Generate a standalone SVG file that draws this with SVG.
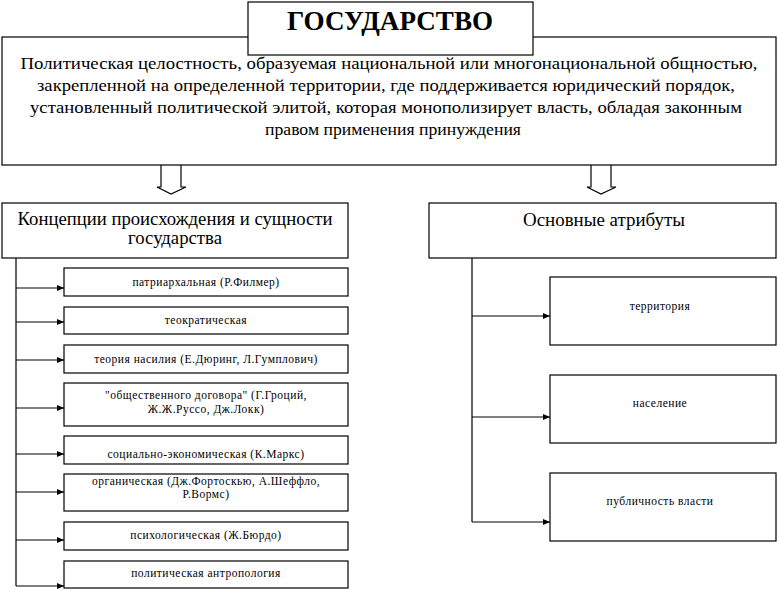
<svg xmlns="http://www.w3.org/2000/svg" width="778" height="590" viewBox="0 0 778 590">
<style>
.box{fill:#fff;stroke:#000;stroke-width:1.2}
.ln{fill:none;stroke:#000;stroke-width:1.2}
text{font-family:"Liberation Serif","DejaVu Serif","Times New Roman",serif;fill:#000;text-anchor:middle}
.big{font-size:17px}
.hd{font-size:18px}
.sm{font-size:11.5px;letter-spacing:0.5px}
.ttl{font-size:28px;font-weight:bold}
</style>
<defs>
<marker id="ah" markerWidth="7" markerHeight="6" refX="7" refY="3" orient="auto" markerUnits="userSpaceOnUse">
<path d="M0,0 L7,3 L0,6 Z" fill="#000"/>
</marker>
</defs>

<g id="definition">
<rect class="box" x="2" y="37" width="774" height="128"/>
<text class="big" x="389" y="69" textLength="737" lengthAdjust="spacingAndGlyphs">Политическая целостность, образуемая национальной или многонациональной общностью,</text>
<text class="big" x="386" y="91" textLength="698" lengthAdjust="spacingAndGlyphs">закрепленной на определенной территории, где поддерживается юридический порядок,</text>
<text class="big" x="386" y="113" textLength="712" lengthAdjust="spacingAndGlyphs">установленный политической элитой, которая монополизирует власть, обладая законным</text>
<text class="big" x="393" y="135" textLength="256" lengthAdjust="spacingAndGlyphs">правом применения принуждения</text>
</g>

<g id="title">
<rect class="box" x="248" y="2" width="285" height="53"/>
<text class="ttl" x="390" y="30" textLength="206" lengthAdjust="spacingAndGlyphs">ГОСУДАРСТВО</text>
</g>

<g id="concepts">
<rect class="box" x="2" y="203" width="346" height="55"/>
<text class="hd" x="175" y="225" textLength="315" lengthAdjust="spacingAndGlyphs">Концепции происхождения и сущности</text>
<text class="hd" x="175" y="244" textLength="94" lengthAdjust="spacingAndGlyphs">государства</text>
</g>

<g id="attributes">
<rect class="box" x="429" y="203" width="347" height="55"/>
<text class="hd" x="604" y="226" textLength="162" lengthAdjust="spacingAndGlyphs">Основные атрибуты</text>
</g>

<g id="c1"><rect class="box" x="64" y="268" width="284" height="28"/><text class="sm" x="206" y="286">патриархальная (Р.Филмер)</text></g>
<g id="c2"><rect class="box" x="64" y="307" width="284" height="27"/><text class="sm" x="206" y="324">теократическая</text></g>
<g id="c3"><rect class="box" x="64" y="345" width="284" height="28"/><text class="sm" x="206" y="363">теория насилия (Е.Дюринг, Л.Гумплович)</text></g>
<g id="c4"><rect class="box" x="64" y="383" width="284" height="43"/><text class="sm" x="206" y="399">"общественного договора" (Г.Гроций,</text><text class="sm" x="206" y="413">Ж.Ж.Руссо, Дж.Локк)</text></g>
<g id="c5"><rect class="box" x="64" y="436" width="284" height="28"/><text class="sm" x="206" y="458">социально-экономическая (К.Маркс)</text></g>
<g id="c6"><rect class="box" x="64" y="474" width="284" height="37"/><text class="sm" x="206" y="485">органическая (Дж.Фортоскью, А.Шеффло,</text><text class="sm" x="206" y="498">Р.Вормс)</text></g>
<g id="c7"><rect class="box" x="64" y="522" width="284" height="28"/><text class="sm" x="206" y="539">психологическая (Ж.Бюрдо)</text></g>
<g id="c8"><rect class="box" x="64" y="561" width="284" height="27"/><text class="sm" x="206" y="577">политическая антропология</text></g>

<g id="a1"><rect class="box" x="550" y="277" width="226" height="68"/><text class="sm" x="660" y="310">территория</text></g>
<g id="a2"><rect class="box" x="550" y="375" width="226" height="68"/><text class="sm" x="660" y="407">население</text></g>
<g id="a3"><rect class="box" x="550" y="473" width="226" height="68"/><text class="sm" x="660" y="505">публичность власти</text></g>

<g id="connectors">
<path class="ln" d="M161,165 V187 H157 L171,194 L186,187 H181 V165"/>
<path class="ln" d="M591,165 V187 H587 L601,194 L616,187 H611 V165"/>
<path class="ln" d="M16,258 V586"/>
<path class="ln" d="M16,288 H64" marker-end="url(#ah)"/>
<path class="ln" d="M16,322 H64" marker-end="url(#ah)"/>
<path class="ln" d="M16,360 H64" marker-end="url(#ah)"/>
<path class="ln" d="M16,408 H64" marker-end="url(#ah)"/>
<path class="ln" d="M16,454 H64" marker-end="url(#ah)"/>
<path class="ln" d="M16,492 H64" marker-end="url(#ah)"/>
<path class="ln" d="M16,540 H64" marker-end="url(#ah)"/>
<path class="ln" d="M16,586 H64" marker-end="url(#ah)"/>
<path class="ln" d="M472,258 V522"/>
<path class="ln" d="M472,316 H550" marker-end="url(#ah)"/>
<path class="ln" d="M472,417 H550" marker-end="url(#ah)"/>
<path class="ln" d="M472,522 H550" marker-end="url(#ah)"/>
</g>
</svg>
